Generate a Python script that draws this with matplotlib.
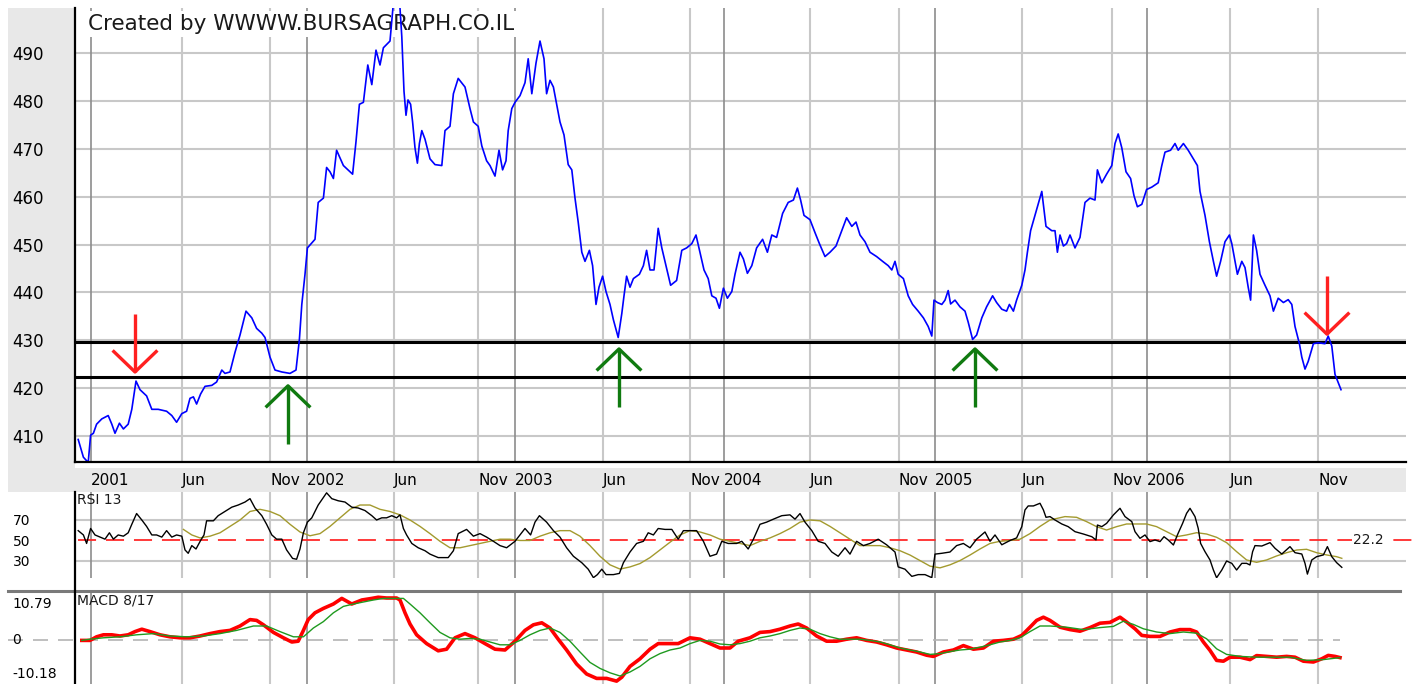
import matplotlib
matplotlib.use('Agg')
import matplotlib.pyplot as plt
from matplotlib.lines import Line2D
from matplotlib.patches import Rectangle

plt.rcParams['font.family'] = ['DejaVu Sans']

# ---------------- data (x = trading-week index from start of chart) ----------------
tick_weeks = [4, 26.75, 48.75, 58, 79.75, 100.75, 110, 132, 153.75, 162.25,
              183.75, 206, 215, 236.75, 259.25, 268, 288.75, 310.75]
tick_labels = ['2001', 'Jun', 'Nov', '2002', 'Jun', 'Nov', '2003', 'Jun', 'Nov', '2004',
               'Jun', 'Nov', '2005', 'Jun', 'Nov', '2006', 'Jun', 'Nov']

price_points = [
    (0.8, 409.3), (2.1, 405.6), (3.3, 404.5), (3.9, 410.2), (4.6, 410.6), (5.4, 412.5),
    (6.7, 413.6), (8.3, 414.3), (9.2, 412.5), (10.0, 410.6), (11.1, 412.7), (12.1, 411.5),
    (13.3, 412.5), (14.2, 415.6), (15.25, 421.5), (16.25, 419.7), (17.9, 418.4), (19.2, 415.6),
    (20.8, 415.6), (22.9, 415.2), (24.2, 414.3), (25.4, 412.9), (26.7, 414.7), (27.9, 415.2),
    (28.75, 417.9), (29.6, 418.2), (30.4, 416.7), (31.4, 418.8), (32.5, 420.4), (34.2, 420.6),
    (35.4, 421.3), (36.7, 423.8), (37.5, 423.1), (38.75, 423.4), (40.0, 427.5), (41.25, 431.1),
    (42.75, 436.1), (44.2, 434.7), (45.4, 432.5), (46.7, 431.5), (47.5, 430.6), (48.75, 426.5),
    (50.0, 423.8), (51.7, 423.4), (53.75, 423.1), (55.25, 423.8), (56.1, 430.2), (56.7, 437.5),
    (57.5, 443.8), (58.1, 449.3), (60.0, 451.1), (60.8, 458.8), (62.1, 459.7), (62.9, 466.1),
    (63.75, 465.2), (64.6, 463.8), (65.4, 469.7), (67.1, 466.5), (69.4, 464.7), (70.25, 471.5),
    (71.1, 479.3), (72.1, 479.7), (73.2, 487.5), (74.2, 483.4), (75.25, 490.6), (76.25, 487.5),
    (77.1, 491.1), (78.75, 492.5), (79.6, 500.5), (81.2, 500.0), (81.7, 493.4), (82.25, 482.0),
    (82.75, 477.0), (83.25, 480.2), (83.9, 479.3), (84.4, 475.6), (85.0, 470.2), (85.6, 467.0),
    (86.1, 471.1), (86.7, 473.8), (87.5, 472.0), (88.75, 467.9), (90.0, 466.7), (91.7, 466.5),
    (92.5, 473.8), (93.75, 474.7), (94.6, 481.5), (95.8, 484.7), (97.5, 482.9), (98.75, 478.4),
    (99.6, 475.6), (100.8, 474.7), (101.7, 470.6), (102.9, 467.5), (103.75, 466.5), (105.0, 464.3),
    (106.0, 469.7), (106.9, 465.6), (107.75, 467.5), (108.3, 473.8), (109.2, 478.4), (110.0, 479.7),
    (111.25, 481.1), (112.5, 483.8), (113.3, 488.8), (114.2, 481.5), (115.25, 487.9), (116.25, 492.5),
    (117.25, 488.8), (117.9, 481.5), (118.75, 484.3), (119.6, 482.9), (120.4, 479.3), (121.25, 475.6),
    (122.25, 472.9), (123.3, 466.7), (124.2, 465.6), (125.0, 459.7), (125.8, 454.7), (126.7, 448.4),
    (127.5, 446.5), (128.6, 448.8), (129.4, 445.6), (130.25, 437.5), (131.0, 441.1), (131.9, 443.4),
    (132.75, 440.2), (133.75, 437.5), (134.6, 434.3), (135.8, 430.6), (136.7, 435.6), (137.25, 439.3),
    (137.9, 443.4), (138.75, 441.1), (139.6, 442.9), (141.1, 443.8), (142.1, 445.6), (142.9, 448.8),
    (143.75, 444.7), (144.75, 444.7), (145.8, 453.4), (146.7, 449.3), (147.75, 445.6), (148.9, 441.5),
    (150.4, 442.5), (151.7, 448.8), (152.9, 449.3), (154.2, 450.2), (155.25, 452.0), (156.25, 448.4),
    (157.25, 444.7), (158.3, 442.9), (159.2, 439.3), (160.25, 438.8), (161.1, 436.7), (162.1, 440.9),
    (163.1, 438.8), (164.2, 440.2), (165.0, 443.8), (166.25, 448.4), (167.1, 447.0), (168.1, 444.0),
    (169.2, 445.6), (170.4, 449.3), (171.9, 451.1), (173.1, 448.4), (174.2, 452.0), (175.4, 451.5),
    (176.9, 456.5), (178.3, 458.8), (179.6, 459.3), (180.6, 461.8), (181.4, 459.3), (182.25, 456.1),
    (183.75, 455.2), (185.0, 452.5), (186.1, 450.2), (187.5, 447.5), (188.75, 448.4), (190.25, 449.7),
    (191.7, 452.9), (192.9, 455.6), (194.2, 453.8), (195.25, 454.7), (196.25, 452.0), (197.5, 450.6),
    (198.75, 448.4), (200.4, 447.5), (201.9, 446.5), (203.3, 445.6), (204.2, 444.7), (205.0, 446.5),
    (205.8, 443.8), (207.1, 442.9), (208.3, 439.3), (209.4, 437.5), (210.8, 436.1), (212.1, 434.7),
    (213.3, 432.9), (214.2, 430.9), (214.75, 438.4), (215.6, 437.9), (216.7, 437.5), (217.5, 438.4),
    (218.3, 440.4), (218.9, 437.6), (220.0, 438.4), (221.25, 437.0), (222.5, 436.1), (223.3, 433.8),
    (224.4, 430.2), (225.4, 431.1), (226.7, 434.7), (227.9, 437.0), (229.4, 439.3), (230.4, 437.9),
    (231.7, 436.5), (232.9, 436.1), (233.6, 437.5), (234.6, 436.1), (235.4, 438.4), (236.7, 441.5),
    (237.5, 444.7), (238.1, 448.4), (238.9, 452.9), (240.0, 456.1), (240.8, 458.4), (241.7, 461.1),
    (242.75, 453.8), (244.2, 452.9), (245.0, 452.9), (245.6, 448.4), (246.25, 452.0), (247.1, 449.7),
    (247.9, 450.2), (248.75, 452.0), (250.0, 449.3), (251.25, 451.5), (252.5, 458.8), (253.75, 459.7),
    (255.0, 459.3), (255.6, 465.6), (256.7, 462.9), (257.9, 464.7), (259.2, 466.5), (260.0, 471.1),
    (260.8, 473.1), (261.7, 470.2), (262.75, 465.2), (263.9, 463.8), (264.75, 460.2), (265.6, 457.9),
    (266.7, 458.4), (267.9, 461.5), (269.2, 462.0), (270.8, 462.9), (271.7, 466.5), (272.5, 469.3),
    (273.9, 469.7), (275.0, 471.1), (275.8, 469.7), (277.1, 471.1), (278.3, 469.7), (279.6, 467.9),
    (280.6, 466.5), (281.25, 461.1), (282.5, 456.1), (283.6, 450.6), (284.6, 446.5), (285.4, 443.4),
    (286.4, 446.5), (287.5, 450.6), (288.6, 452.0), (289.2, 450.2), (290.0, 446.5), (290.6, 443.8),
    (291.7, 446.5), (292.5, 445.2), (293.3, 441.1), (293.9, 438.4), (294.6, 452.0), (295.4, 448.8),
    (296.25, 443.8), (297.5, 441.5), (298.75, 439.3), (299.6, 436.1), (300.8, 438.8), (302.1, 437.9),
    (303.3, 438.5), (304.2, 437.5), (305.0, 432.9), (306.1, 429.3), (306.7, 426.5), (307.5, 424.0),
    (308.3, 425.6), (309.6, 429.3), (310.8, 429.5), (312.5, 429.3), (313.3, 430.9), (314.2, 428.8),
    (315.0, 422.9), (316.5, 419.7),
]

rsi_points = [
    (0.8, 59.6), (2.1, 55.4), (2.9, 47.1), (3.9, 61.7), (5.0, 55.4), (6.25, 53.3), (7.5, 51.3),
    (8.6, 57.5), (9.6, 51.3), (10.8, 55.4), (12.1, 54.2), (13.3, 57.5), (14.2, 65.8), (15.4, 76.3),
    (16.7, 70.0), (17.9, 63.75), (19.2, 55.4), (20.4, 55.4), (21.7, 53.3), (22.9, 59.6), (24.2, 53.3),
    (25.4, 55.4), (26.7, 54.2), (27.5, 40.8), (28.3, 37.5), (29.2, 45.0), (30.25, 41.7), (31.4, 50.0),
    (32.25, 55.4), (32.9, 69.2), (34.6, 69.2), (35.8, 74.2), (37.5, 78.3), (39.2, 82.5), (40.8, 84.6),
    (42.5, 87.5), (43.75, 90.8), (45.0, 81.7), (46.7, 74.2), (47.9, 65.8), (49.2, 55.4), (50.4, 51.3),
    (51.7, 51.3), (52.9, 40.8), (54.4, 32.5), (55.4, 31.7), (56.25, 41.7), (57.1, 57.5), (58.1, 67.9),
    (59.2, 72.1), (60.8, 84.6), (62.9, 96.5), (64.2, 90.8), (65.8, 88.75), (67.5, 87.5), (69.2, 82.5),
    (70.8, 81.7), (72.5, 79.2), (74.2, 74.2), (75.4, 70.0), (76.7, 72.1), (77.9, 72.1), (79.2, 74.2),
    (80.4, 72.1), (81.25, 75.0), (82.1, 61.7), (82.9, 55.4), (84.2, 47.1), (85.8, 42.9), (87.5, 40.0),
    (88.75, 36.7), (90.8, 33.3), (93.3, 33.3), (94.6, 40.0), (95.8, 56.7), (97.9, 60.8), (99.6, 54.2),
    (101.25, 56.7), (102.9, 53.3), (104.6, 49.2), (106.25, 45.0), (107.9, 42.9), (110.0, 49.2),
    (112.5, 61.7), (113.9, 55.4), (115.0, 67.9), (116.1, 74.2), (117.9, 67.9), (119.6, 59.6),
    (121.25, 53.3), (122.9, 42.9), (124.6, 34.6), (126.7, 28.3), (128.3, 22.0), (129.6, 13.75),
    (130.6, 16.7), (131.7, 22.0), (132.75, 16.7), (134.6, 16.7), (136.1, 17.9), (137.1, 28.3),
    (138.75, 38.75), (140.4, 47.1), (142.1, 49.2), (143.3, 57.5), (144.6, 55.4), (145.8, 61.7),
    (147.5, 60.8), (149.2, 60.8), (150.8, 51.25), (152.1, 59.6), (153.75, 59.6), (155.4, 59.6),
    (157.1, 49.2), (158.75, 34.6), (160.4, 36.7), (161.7, 49.2), (163.3, 47.1), (165.4, 47.1),
    (166.7, 49.2), (168.3, 41.7), (169.6, 51.25), (171.25, 65.8), (172.9, 67.9), (174.6, 70.8),
    (176.7, 74.2), (178.75, 75.0), (180.0, 70.8), (181.25, 76.25), (182.5, 67.9), (184.2, 59.6),
    (185.8, 49.2), (187.5, 47.1), (189.2, 38.75), (190.8, 34.6), (192.5, 42.9), (193.75, 36.7),
    (195.4, 49.2), (197.1, 45.0), (198.75, 47.1), (200.8, 51.25), (202.9, 45.8), (205.0, 38.75),
    (205.8, 24.2), (207.5, 22.0), (209.2, 15.0), (210.8, 16.7), (212.5, 16.7), (214.2, 13.75),
    (215.0, 36.7), (216.7, 37.5), (218.75, 38.75), (220.4, 45.0), (222.1, 47.1), (223.75, 42.9),
    (225.4, 51.25), (227.5, 58.3), (228.75, 49.2), (230.0, 55.4), (231.7, 45.8), (233.75, 50.0),
    (235.4, 52.5), (236.7, 63.5), (237.5, 79.8), (238.3, 83.7), (239.6, 83.7), (241.25, 86.3),
    (242.1, 79.8), (242.75, 72.6), (243.75, 73.3), (245.0, 70.0), (246.7, 66.1), (248.3, 63.5),
    (250.0, 58.6), (252.1, 56.3), (254.2, 53.7), (255.25, 50.5), (255.6, 65.1), (256.7, 63.5),
    (257.9, 66.7), (259.6, 74.9), (261.25, 81.4), (262.5, 73.3), (264.2, 68.4), (265.0, 58.6),
    (266.25, 52.1), (267.5, 55.4), (268.75, 48.9), (270.0, 50.5), (271.25, 48.9), (272.25, 53.7),
    (273.3, 50.5), (274.6, 45.6), (275.6, 55.4), (276.9, 66.7), (277.9, 76.5), (278.75, 81.4),
    (280.0, 73.3), (280.8, 61.9), (281.4, 47.2), (282.5, 39.1), (283.75, 31.0), (284.6, 21.2),
    (285.4, 13.6), (286.7, 21.2), (287.9, 30.0), (289.2, 27.7), (290.4, 21.2), (291.7, 27.7),
    (292.9, 27.7), (293.75, 26.1), (294.4, 39.1), (295.0, 45.0), (296.7, 44.6), (298.75, 47.9),
    (300.0, 42.4), (301.7, 36.8), (303.75, 44.0), (305.0, 38.1), (306.7, 36.8), (307.5, 27.7),
    (308.1, 17.2), (309.2, 31.0), (310.4, 34.2), (312.1, 35.9), (313.1, 44.0), (314.2, 34.2),
    (315.4, 28.4), (316.7, 23.8),
]

rsi_avg_points = [
    (27.1, 60.8), (29.2, 55.4), (31.25, 52.5), (33.75, 54.2), (36.25, 57.5), (38.75, 63.75),
    (41.25, 70.0), (43.75, 78.3), (46.25, 80.4), (48.75, 78.3), (51.25, 74.2), (53.75, 65.8),
    (56.25, 58.3), (58.75, 54.6), (61.25, 56.7), (63.75, 63.75), (66.25, 72.1), (68.75, 80.4),
    (71.25, 84.6), (73.75, 84.6), (76.25, 80.4), (78.75, 78.3), (81.25, 75.0), (83.75, 70.0),
    (86.25, 63.75), (88.75, 56.7), (91.25, 49.2), (93.75, 42.9), (96.25, 42.9), (98.75, 45.0),
    (101.25, 47.1), (103.75, 49.2), (106.25, 51.25), (108.75, 51.25), (111.25, 50.0), (113.75, 50.0),
    (116.25, 54.2), (118.75, 57.5), (121.25, 59.6), (123.75, 59.6), (126.25, 54.2), (128.75, 45.0),
    (131.25, 34.6), (133.75, 26.25), (136.25, 22.1), (138.75, 24.2), (141.25, 27.5), (143.75, 33.3),
    (146.25, 40.8), (148.75, 48.3), (151.25, 55.4), (153.75, 59.6), (156.25, 58.3), (158.75, 55.4),
    (161.25, 51.25), (163.75, 49.2), (166.25, 47.1), (168.75, 45.0), (171.25, 49.2), (173.75, 52.5),
    (176.25, 56.7), (178.75, 61.7), (181.25, 67.9), (183.75, 70.0), (186.25, 69.2), (188.75, 63.75),
    (191.25, 57.5), (193.75, 51.25), (196.25, 45.0), (198.75, 45.0), (201.25, 45.0), (203.75, 42.9),
    (206.25, 40.0), (208.75, 35.8), (211.25, 30.4), (213.75, 25.0), (216.25, 23.3), (218.75, 26.25),
    (221.25, 30.4), (223.75, 35.8), (226.25, 41.7), (228.75, 47.1), (231.25, 49.2), (233.75, 50.0),
    (236.25, 51.25), (238.75, 56.7), (241.25, 63.75), (243.75, 70.0), (247.5, 73.3), (250.4, 72.6),
    (252.9, 68.4), (255.4, 63.5), (257.9, 60.2), (260.4, 63.5), (262.9, 66.1), (265.4, 66.1),
    (267.9, 66.1), (270.4, 63.5), (272.9, 58.6), (275.4, 53.7), (277.9, 55.4), (280.4, 57.6),
    (282.9, 56.3), (285.4, 53.1), (287.9, 47.9), (290.4, 39.1), (292.9, 31.0), (295.4, 28.7),
    (297.9, 31.0), (300.4, 34.9), (302.9, 38.1), (305.4, 40.7), (307.9, 41.4), (310.4, 38.1),
    (312.9, 35.9), (315.4, 34.2), (316.7, 32.6),
]

macd_points = [
    (1.7, 0.0), (3.75, 0.0), (5.4, 0.9), (7.1, 1.4), (9.2, 1.4), (11.25, 1.1), (13.3, 1.4),
    (15.0, 2.2), (16.7, 2.8), (18.75, 2.2), (21.25, 1.4), (23.75, 0.9), (26.25, 0.65), (28.75, 0.65),
    (31.25, 1.1), (33.75, 1.7), (36.25, 2.2), (38.75, 2.5), (41.25, 3.6), (43.75, 5.2), (45.4, 5.0),
    (47.1, 3.9), (49.6, 2.0), (52.1, 0.65), (54.2, -0.4), (55.8, -0.2), (57.1, 2.5), (58.3, 5.2),
    (60.0, 6.9), (62.1, 8.0), (64.6, 9.1), (66.7, 10.5), (69.2, 9.1), (71.7, 10.1), (74.2, 10.5),
    (75.8, 10.79), (77.9, 10.6), (80.4, 10.6), (81.25, 10.1), (82.5, 6.9), (83.75, 4.1), (85.4, 1.4),
    (87.9, -0.8), (90.8, -2.6), (92.9, -2.2), (95.0, 0.65), (97.5, 1.7), (100.0, 0.65), (102.5, -0.8),
    (105.0, -2.2), (107.5, -2.4), (110.0, -0.2), (112.5, 2.5), (114.6, 3.9), (116.7, 4.4),
    (118.75, 3.1), (120.8, 0.3), (122.9, -2.4), (125.4, -5.9), (127.9, -8.4), (130.4, -9.5),
    (132.9, -9.5), (135.4, -10.18), (136.7, -9.2), (138.75, -6.5), (141.25, -4.6), (143.75, -2.2),
    (145.8, -0.8), (148.3, -0.8), (150.8, -0.8), (153.75, 0.65), (156.25, 0.3), (158.75, -0.8),
    (161.25, -1.9), (163.75, -1.9), (165.8, -0.2), (168.75, 0.65), (171.25, 2.0), (173.75, 2.2),
    (176.25, 2.8), (178.75, 3.6), (180.8, 4.1), (182.9, 3.1), (185.4, 1.1), (187.9, -0.2),
    (190.4, -0.2), (192.9, 0.3), (195.4, 0.65), (197.9, 0.0), (200.4, -0.4), (202.9, -1.1),
    (205.4, -1.9), (207.9, -2.4), (210.4, -2.9), (212.9, -3.7), (214.6, -4.0), (217.1, -2.9),
    (219.6, -2.4), (222.1, -1.3), (224.6, -2.2), (227.1, -1.9), (229.6, -0.2), (232.1, 0.0),
    (234.6, 0.3), (236.7, 1.25), (238.75, 3.3), (240.4, 5.0), (242.1, 5.8), (243.75, 5.0),
    (246.25, 3.3), (248.75, 2.7), (251.25, 2.3), (253.75, 3.2), (256.25, 4.3), (258.75, 4.5),
    (261.25, 5.8), (262.9, 4.6), (265.0, 2.9), (266.7, 1.25), (268.75, 1.0), (271.25, 1.0),
    (273.75, 2.1), (276.25, 2.7), (278.75, 2.7), (280.4, 2.1), (282.1, -0.4), (283.75, -2.5),
    (285.4, -5.0), (287.1, -5.2), (288.75, -4.2), (291.25, -4.2), (293.75, -4.8), (295.4, -3.8),
    (297.9, -4.0), (300.4, -4.2), (302.9, -4.0), (305.0, -4.2), (307.1, -5.2), (309.6, -5.4),
    (311.7, -4.6), (313.3, -3.75), (315.0, -4.0), (316.25, -4.3),
]

signal_points = [
    (1.7, 0.0), (3.75, 0.3), (7.1, 0.65), (11.25, 0.9), (15.4, 1.4), (19.6, 1.7), (23.75, 1.1),
    (27.9, 0.9), (32.1, 1.1), (36.25, 1.7), (40.4, 2.5), (44.6, 3.6), (47.9, 3.6), (51.25, 2.2),
    (54.6, 0.9), (57.1, 0.9), (59.6, 3.1), (62.1, 4.7), (64.6, 6.9), (67.1, 8.5), (69.6, 9.1),
    (72.1, 9.6), (74.6, 10.1), (77.1, 10.5), (79.6, 10.5), (82.1, 10.5), (83.75, 9.1), (86.25, 6.9),
    (88.75, 4.4), (91.25, 2.0), (93.75, 0.65), (96.25, 0.3), (98.75, 0.5), (101.25, 0.3),
    (103.75, -0.4), (106.25, -1.1), (108.75, -1.1), (111.25, 0.0), (113.75, 1.4), (116.25, 2.5),
    (118.75, 3.1), (121.25, 2.0), (123.75, -0.2), (126.25, -2.9), (128.75, -5.5), (131.25, -7.0),
    (133.75, -8.1), (136.25, -8.9), (138.75, -7.9), (141.25, -6.5), (143.75, -4.6), (146.25, -3.3),
    (148.75, -2.4), (151.25, -1.9), (153.75, -0.8), (156.25, 0.0), (158.75, -0.2), (161.25, -0.9),
    (163.75, -1.1), (166.25, -0.8), (168.75, -0.2), (171.25, 0.65), (173.75, 1.1), (176.25, 1.7),
    (178.75, 2.5), (181.25, 3.1), (183.75, 2.8), (186.25, 1.7), (188.75, 0.9), (191.25, 0.3),
    (193.75, 0.3), (196.25, 0.3), (198.75, 0.0), (201.25, -0.4), (203.75, -1.1), (206.25, -1.9),
    (208.75, -2.4), (211.25, -2.9), (213.75, -3.5), (216.25, -3.3), (218.75, -2.8), (221.25, -2.4),
    (223.75, -2.2), (226.25, -1.7), (228.75, -1.1), (231.25, -0.4), (233.75, 0.0), (236.25, 0.65),
    (238.75, 2.2), (241.25, 3.6), (243.75, 3.6), (247.9, 3.3), (252.1, 2.7), (256.25, 3.2),
    (259.6, 3.5), (262.1, 4.8), (264.6, 4.0), (267.1, 2.9), (270.4, 2.1), (273.75, 1.7),
    (277.1, 2.1), (280.4, 1.8), (282.9, 0.4), (285.4, -2.1), (287.9, -3.5), (291.25, -4.0),
    (295.4, -4.2), (299.6, -4.2), (303.75, -4.2), (307.9, -5.0), (312.1, -4.8), (316.25, -4.3),
]

support_levels = [429.6, 422.4]
arrow_weeks = [15, 53.25, 136, 225, 313]
arrow_tips = [423.4, 420.5, 428.2, 428.2, 431.3]
arrow_dirs = [-1, 1, 1, 1, -1]          # -1: pointing down (sell), +1: pointing up (buy)

macd_ticks = [10.79, 0, -10.18]
macd_tick_labels = ['10.79', '0', '-10.18']
rsi_ticks = [70, 50, 30]
rsi_last = '22.2'

price_week = [p[0] for p in price_points]
price_close = [p[1] for p in price_points]
rsi_week = [p[0] for p in rsi_points]
rsi_val = [p[1] for p in rsi_points]
rsia_week = [p[0] for p in rsi_avg_points]
rsia_val = [p[1] for p in rsi_avg_points]
macd_week = [p[0] for p in macd_points]
macd_val = [p[1] for p in macd_points]
sig_week = [p[0] for p in signal_points]
sig_val = [p[1] for p in signal_points]

# ---------------- layout ----------------
W, H, DPI = 1419, 684, 100
fig = plt.figure(figsize=(W / DPI, H / DPI), dpi=DPI, facecolor='white')


def rect(x0, y0, x1, y1):
    return [x0 / W, 1 - y1 / H, (x1 - x0) / W, (y1 - y0) / H]


BG = '#e8e8e8'
LIGHT = '#c8c8c8'
DARK = '#8c8c8c'
XMIN, XMAX = 0, 332.75

fig.add_artist(Rectangle((8 / W, 1 - 492 / H), 67 / W, 484 / H, transform=fig.transFigure,
                         fc=BG, ec='none', zorder=-5))
fig.add_artist(Rectangle((75 / W, 1 - 492 / H), 1331 / W, 24 / H, transform=fig.transFigure,
                         fc=BG, ec='none', zorder=-5))


def vgrid(a):
    for w, lab in zip(tick_weeks, tick_labels):
        year = lab.isdigit()
        a.axvline(w, color=DARK if year else LIGHT, lw=1.2 if year else 1.5, zorder=0.6)


# ---- main price panel ----
ax = fig.add_axes(rect(75, 8, 1406, 462))
ax.set_xlim(XMIN, XMAX)
ax.set_ylim(404.6, 499.4)
for s in ['top', 'right']:
    ax.spines[s].set_visible(False)
for s in ['left', 'bottom']:
    ax.spines[s].set_color('black')
    ax.spines[s].set_linewidth(1.6)
ax.set_yticks(list(range(410, 500, 10)))
ax.yaxis.grid(True, color=LIGHT, lw=1.5)
ax.set_axisbelow(True)
vgrid(ax)
ax.set_xticks(tick_weeks)
ax.set_xticklabels(tick_labels, ha='left', fontsize=11)
ax.tick_params(axis='x', length=0, pad=8)
ax.tick_params(axis='y', length=0, pad=45.4, labelsize=12)
for t in ax.get_yticklabels():
    t.set_ha('left')

ax.text(88 / W, 1 - 24 / H, 'Created by WWWW.BURSAGRAPH.CO.IL', transform=fig.transFigure,
        fontsize=15.5, ha='left', va='center', color='#1a1a1a', zorder=1.5,
        bbox=dict(fc='white', ec='none', pad=2))

for lvl in support_levels:
    ax.axhline(lvl, color='black', lw=2.2, zorder=2)
ax.plot(price_week, price_close, color='#0000ff', lw=1.2, zorder=2.5)

for w, tip, d in zip(arrow_weeks, arrow_tips, arrow_dirs):
    col = '#ff2020' if d < 0 else '#107a10'
    tail = tip - d * 12.2
    ax.plot([w, w], [tail, tip], color=col, lw=2.4, solid_capstyle='butt', zorder=3)
    ax.plot([w - 5.6, w, w + 5.6], [tip - d * 4.5, tip, tip - d * 4.5], color=col, lw=2.4,
            solid_capstyle='butt', zorder=3)

# ---- RSI panel ----
axr = fig.add_axes(rect(75, 492, 1406, 578))
axr.set_xlim(XMIN, XMAX)
axr.set_ylim(13.4, 97.3)
axr.patch.set_alpha(0)
for s in axr.spines.values():
    s.set_visible(False)
vgrid(axr)
axr.axhline(70, color=LIGHT, lw=1.5, zorder=0.5)
axr.axhline(30, color=LIGHT, lw=1.5, zorder=0.5)
axr.set_xticks([])
axr.set_yticks(rsi_ticks)
axr.set_yticklabels([str(v) for v in rsi_ticks], fontsize=10)
axr.tick_params(axis='y', length=0, pad=44.6)
for t in axr.get_yticklabels():
    t.set_ha('left')
axr.plot([0.75, 336], [50, 50], color='#ff2a2a', lw=1.3, dashes=(10, 5.5), clip_on=False, zorder=1)
axr.plot(rsia_week, rsia_val, color='#a39a2e', lw=1.0, zorder=2)
axr.plot(rsi_week, rsi_val, color='black', lw=1.0, zorder=2.5)
axr.text(319.5, 50, rsi_last, ha='left', va='center', fontsize=10, color='#1a1a1a',
         bbox=dict(fc='white', ec='none', pad=1), zorder=3)
fig.text(77 / W, 1 - 500 / H, 'RSI 13', fontsize=10, ha='left', va='center', color='#1a1a1a')

# ---- MACD panel ----
axm = fig.add_axes(rect(75, 592, 1406, 684))
axm.set_xlim(XMIN, XMAX)
axm.set_ylim(-10.9, 12.1)
axm.patch.set_alpha(0)
for s in axm.spines.values():
    s.set_visible(False)
vgrid(axm)
axm.set_xticks([])
axm.set_yticks(macd_ticks)
axm.set_yticklabels(macd_tick_labels, fontsize=10)
axm.tick_params(axis='y', length=0, pad=45.4)
for t, va in zip(axm.get_yticklabels(), ['top', 'center', 'bottom']):
    t.set_ha('left')
    t.set_va(va)
axm.plot([-16.75, 316.25], [0, 0], color='#b4b4b4', lw=1.2, dashes=(9, 6), clip_on=False, zorder=1)
axm.plot(macd_week, macd_val, color='#ff0000', lw=2.6, zorder=2)
axm.plot(sig_week, sig_val, color='#1f9a1f', lw=1.0, zorder=2.5)
fig.text(77 / W, 1 - 601 / H, 'MACD 8/17', fontsize=10, ha='left', va='center', color='#1a1a1a')

# separators / left rule of lower panels
fig.add_artist(Line2D([8 / W, 1400 / W], [1 - 591 / H, 1 - 591 / H], transform=fig.transFigure,
                      color='#7a7a7a', lw=2.2))
fig.add_artist(Line2D([75 / W, 75 / W], [1 - 492 / H, 0], transform=fig.transFigure,
                      color='black', lw=1.6))

fig.savefig('out.png', dpi=DPI)
